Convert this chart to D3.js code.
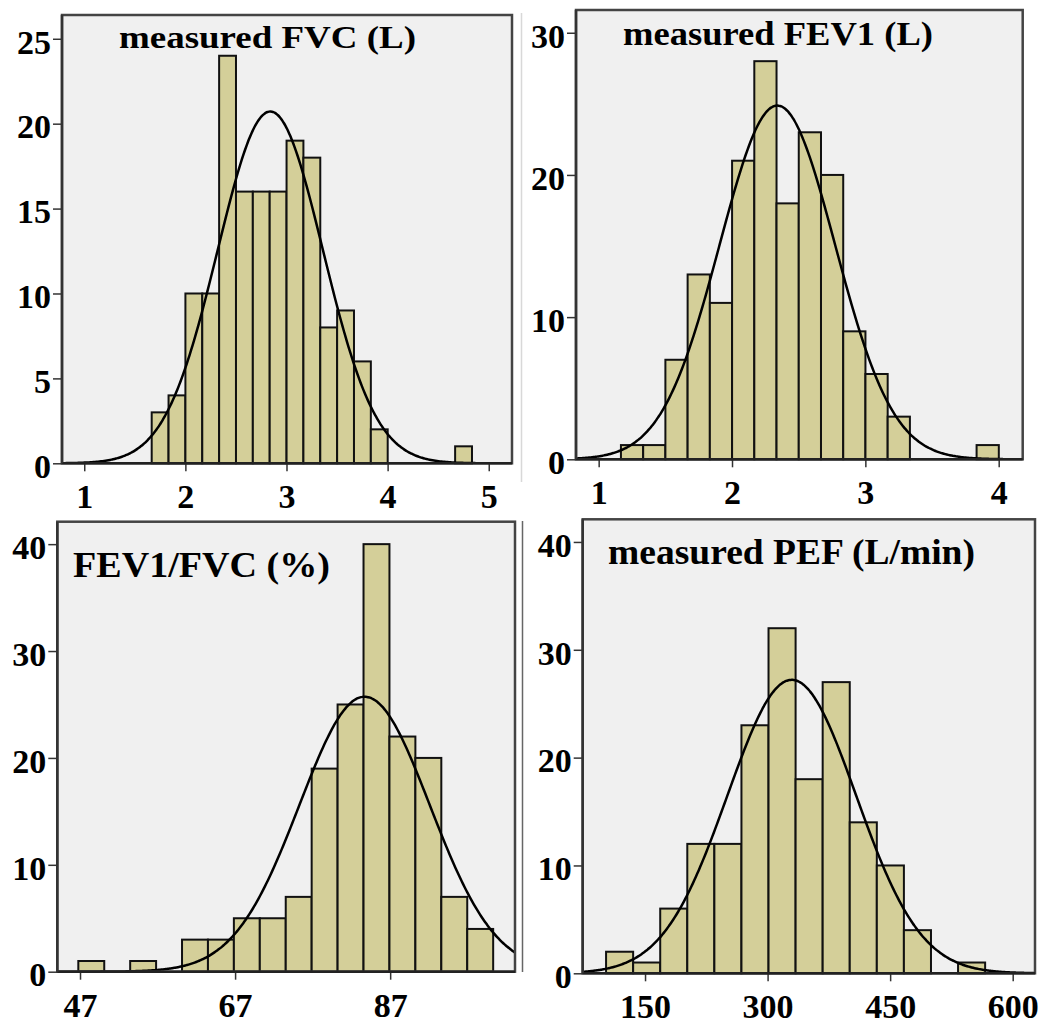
<!DOCTYPE html>
<html>
<head>
<meta charset="utf-8">
<script src="https://cdn.jsdelivr.net/npm/d3@7"></script>
<style>
  html, body { margin: 0; padding: 0; background: #fff; }
  svg { display: block; }
</style>
</head>
<body>
<div id="chart"></div>
<script>
// Histogram data (counts per bin, N = 162 in every panel)

// measured FVC (L)
const fvcCounts = [3, 4, 10, 10, 24, 16, 16, 16, 19, 18, 8, 9, 6, 2, 0, 0, 0, 0, 1];
const fvcBinStart = 1.667;
const fvcBinWidth = 0.1667;
const fvcTicks = [1, 2, 3, 4, 5];
const fvcYTicks = [0, 5, 10, 15, 20, 25];
const fvcNormal = [2.84, 0.52]; // mean, sd of fitted curve

// measured FEV1 (L)
const fev1Counts = [1, 1, 7, 13, 11, 21, 28, 18, 23, 20, 9, 6, 3, 0, 0, 0, 1];
const fev1BinStart = 1.167;
const fev1BinWidth = 0.1667;
const fev1Ticks = [1, 2, 3, 4];
const fev1YTicks = [0, 10, 20, 30];
const fev1Normal = [2.34, 0.433];

// FEV1/FVC (%)
const ratioCounts = [1, 0, 1, 0, 3, 3, 5, 5, 7, 19, 25, 40, 22, 20, 7, 4];
const ratioBinStart = 46.78;
const ratioBinWidth = 3.344;
const ratioTicks = [47, 67, 87];
const ratioYTicks = [0, 10, 20, 30, 40];
const ratioNormal = [83.7, 8.4];

// measured PEF (L/min)
const pefCounts = [2, 1, 6, 12, 12, 23, 32, 18, 27, 14, 10, 4, 0, 1];
const pefBinStart = 102.3;
const pefBinWidth = 33.14;
const pefTicks = [150, 300, 450, 600];
const pefYTicks = [0, 10, 20, 30, 40];
const pefNormal = [329.6, 78.7];

const N = 162;

// Layout of the four panels
const panels = [
  { title: "measured FVC (L)", counts: fvcCounts, start: fvcBinStart, width: fvcBinWidth,
    xTicks: fvcTicks, yTicks: fvcYTicks, normal: fvcNormal,
    xDomain: [0.78, 5.23], yMax: 26.4,
    left: 62, top: 15, right: 512, bottom: 463.3,
    titleX: 119, titleY: 48, titleW: 297, titleSize: 31 },
  { title: "measured FEV1 (L)", counts: fev1Counts, start: fev1BinStart, width: fev1BinWidth,
    xTicks: fev1Ticks, yTicks: fev1YTicks, normal: fev1Normal,
    xDomain: [0.83, 4.18], yMax: 31.6,
    left: 576, top: 10, right: 1022.7, bottom: 459.3,
    titleX: 623, titleY: 45, titleW: 310, titleSize: 34 },
  { title: "FEV1/FVC (%)", counts: ratioCounts, start: ratioBinStart, width: ratioBinWidth,
    xTicks: ratioTicks, yTicks: ratioYTicks, normal: ratioNormal,
    xDomain: [44.07, 103.1], yMax: 42.1,
    left: 57.3, top: 521.7, right: 515, bottom: 971.7,
    titleX: 73, titleY: 577, titleW: 257, titleSize: 35 },
  { title: "measured PEF (L/min)", counts: pefCounts, start: pefBinStart, width: pefBinWidth,
    xTicks: pefTicks, yTicks: pefYTicks, normal: pefNormal,
    xDomain: [73.7, 627.3], yMax: 42.1,
    left: 582.7, top: 519.3, right: 1035, bottom: 973.3,
    titleX: 608, titleY: 564, titleW: 367, titleSize: 35 }
];

const FONT = "'Liberation Serif', 'Times New Roman', serif";
const BAR_FILL = "#d4cf99";

const svg = d3.select("#chart").append("svg")
  .attr("width", 1057)
  .attr("height", 1026);

// faint separator lines seen in the figure
svg.append("line").attr("x1", 521.5).attr("x2", 521.5).attr("y1", 13).attr("y2", 482)
  .attr("stroke", "#d8d8d8").attr("stroke-width", 1.5);
svg.append("line").attr("x1", 522.5).attr("x2", 522.5).attr("y1", 521).attr("y2", 972)
  .attr("stroke", "#666").attr("stroke-width", 1.5);

function drawPanel(p, idx) {
  const x = d3.scaleLinear().domain(p.xDomain).range([p.left, p.right]);
  const y = d3.scaleLinear().domain([0, p.yMax]).range([p.bottom, p.top]);
  const g = svg.append("g");

  g.append("rect")
    .attr("x", p.left).attr("y", p.top)
    .attr("width", p.right - p.left).attr("height", p.bottom - p.top)
    .attr("fill", "#f0f0f0");

  const clipId = "clip" + idx;
  g.append("clipPath").attr("id", clipId)
    .append("rect")
    .attr("x", p.left).attr("y", p.top)
    .attr("width", p.right - p.left).attr("height", p.bottom - p.top);

  // bars
  const bins = p.counts.map((c, i) => ({
    x0: p.start + i * p.width,
    x1: p.start + (i + 1) * p.width,
    count: c
  })).filter(d => d.count > 0);

  g.append("g").selectAll("rect")
    .data(bins)
    .join("rect")
    .attr("x", d => x(d.x0))
    .attr("y", d => y(d.count))
    .attr("width", d => x(d.x1) - x(d.x0))
    .attr("height", d => y(0) - y(d.count))
    .attr("fill", BAR_FILL)
    .attr("stroke", "#111")
    .attr("stroke-width", 2);

  // fitted normal curve
  const [mu, sd] = p.normal;
  const step = (p.xDomain[1] - p.xDomain[0]) / 300;
  const pts = d3.range(p.xDomain[0], p.xDomain[1] + step, step).map(v => [
    v,
    N * p.width / (sd * Math.sqrt(2 * Math.PI)) * Math.exp(-((v - mu) ** 2) / (2 * sd * sd))
  ]);
  const line = d3.line().x(d => x(d[0])).y(d => y(d[1])).curve(d3.curveBasis);
  g.append("path")
    .datum(pts)
    .attr("clip-path", `url(#${clipId})`)
    .attr("d", line)
    .attr("fill", "none")
    .attr("stroke", "#000")
    .attr("stroke-width", 2.5);

  // title
  g.append("text")
    .attr("x", p.titleX).attr("y", p.titleY)
    .attr("textLength", p.titleW)
    .attr("lengthAdjust", "spacingAndGlyphs")
    .style("font-family", FONT)
    .style("font-weight", "bold")
    .style("font-size", p.titleSize + "px")
    .attr("fill", "#000")
    .text(p.title);

  // frame
  g.append("rect")
    .attr("x", p.left).attr("y", p.top)
    .attr("width", p.right - p.left).attr("height", p.bottom - p.top)
    .attr("fill", "none")
    .attr("stroke", "#444")
    .attr("stroke-width", 2.5);

  // axes
  const xAxis = d3.axisBottom(x).tickValues(p.xTicks).tickSize(8).tickPadding(13)
    .tickFormat(d3.format("d"));
  const yAxis = d3.axisLeft(y).tickValues(p.yTicks).tickSize(9).tickPadding(2)
    .tickFormat(d3.format("d"));

  const gx = g.append("g").attr("transform", `translate(0,${p.bottom})`).call(xAxis);
  const gy = g.append("g").attr("transform", `translate(${p.left},0)`).call(yAxis);

  [gx, gy].forEach(a => {
    a.select(".domain").remove();
    a.selectAll(".tick line").attr("stroke", "#333").attr("stroke-width", 1.5);
    a.selectAll(".tick text")
      .attr("fill", "#000")
      .style("font-family", FONT)
      .style("font-weight", "bold")
      .style("font-size", "34px");
  });
  gy.selectAll(".tick text").attr("dy", "0.42em");

  // axis lines drawn over the frame
  g.append("line")
    .attr("x1", p.left).attr("x2", p.right)
    .attr("y1", p.bottom).attr("y2", p.bottom)
    .attr("stroke", "#222").attr("stroke-width", 2.5);
  g.append("line")
    .attr("x1", p.left).attr("x2", p.left)
    .attr("y1", p.top).attr("y2", p.bottom)
    .attr("stroke", "#333").attr("stroke-width", 2.5);
}

panels.forEach(drawPanel);
</script>
</body>
</html>
